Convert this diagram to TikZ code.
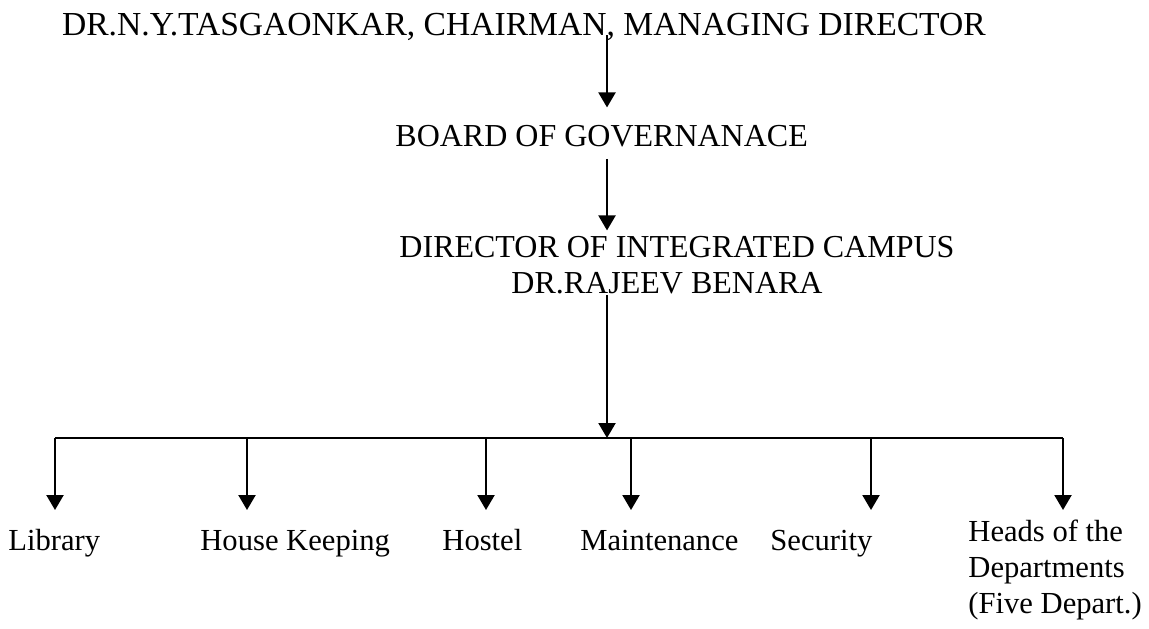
\documentclass[tikz,border=0pt]{standalone}
\usepackage{fontspec}
\setmainfont{Liberation Serif}
\usetikzlibrary{arrows.meta}
\begin{document}
\begin{tikzpicture}[x=0.5pt,y=-0.5pt,
    every node/.style={inner sep=0pt,font=\fontsize{16}{18}\selectfont},
    unit/.style={anchor=base west,font=\fontsize{15.3}{18}\selectfont},
    link/.style={line width=1.1pt,-{Triangle[length=7.5pt,width=8.5pt]}}]
    \useasboundingbox (0,0) rectangle (1149,628);
    % chain of command
    \node [anchor=base,font=\fontsize{16.8}{18}\selectfont] (chair) at (524,35) {DR.N.Y.TASGAONKAR, CHAIRMAN, MANAGING DIRECTOR};
    \node [anchor=base west] (board) at (395,146) {BOARD OF GOVERNANACE};
    \node [anchor=base] (director) at (677,257) {DIRECTOR OF INTEGRATED CAMPUS};
    \node [anchor=base] (dirname) at (667,293) {DR.RAJEEV BENARA};
    \coordinate (spine) at (607,0);
    \draw [link] (chair.base -| spine) -- ([yshift=8.5pt]board.north -| spine);
    \draw [link] ([yshift=-6pt]board.south -| spine) -- ([yshift=2.5pt]director.north -| spine);
    % units
    \node [unit] (lib) at (8,550) {Library};
    \node [unit] (house) at (200,550) {House Keeping};
    \node [unit] (hostel) at (442,550) {Hostel};
    \node [unit] (maint) at (580,550) {Maintenance};
    \node [unit] (sec) at (770,550) {Security};
    \node [unit,anchor=north west,align=left] (heads) at (968,520) {Heads of the\\Departments\\(Five Depart.)};
    \coordinate (bar) at (607,438);
    \coordinate (tips) at (0,510);
    \draw [link] ([yshift=-1pt]dirname.base -| spine) -- (bar);
    \draw [line width=1.1pt] (55,438) -- (1063,438);
    \foreach \x/\n in {55/lib,247/house,486/hostel,631/maint,871/sec,1063/heads}
        \draw [link] (\x,438) coordinate (b-\n) -- (b-\n |- tips);
\end{tikzpicture}
\end{document}
